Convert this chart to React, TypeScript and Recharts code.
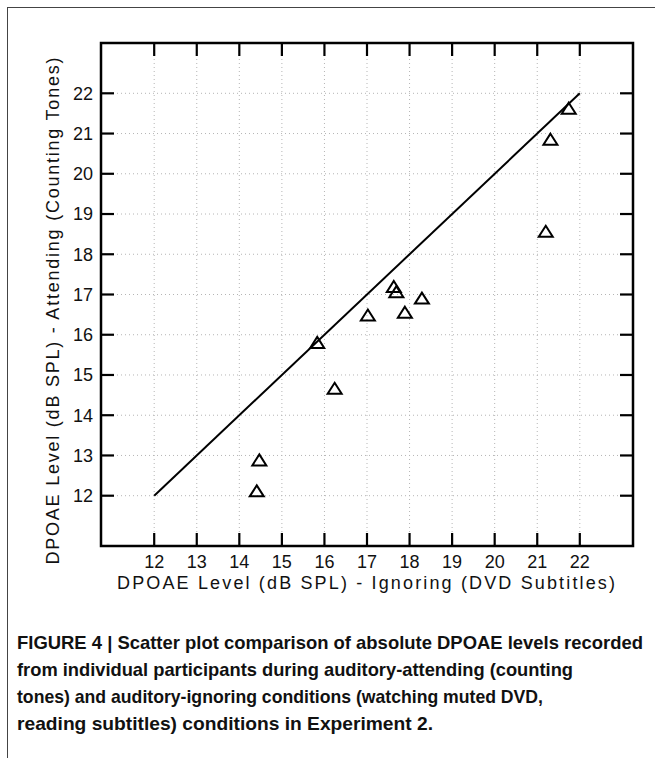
import React from 'react';
import { ScatterChart, Scatter, XAxis, YAxis, CartesianGrid, ReferenceArea, ReferenceLine } from 'recharts';

// DPOAE level per participant (dB SPL)
const ignoring = [14.41, 14.47, 15.83, 16.24, 17.02, 17.63, 17.69, 17.89, 18.29, 21.2, 21.31, 21.74];
const attending = [12.12, 12.89, 15.81, 14.67, 16.49, 17.2, 17.07, 16.56, 16.91, 18.57, 20.86, 21.63];
const ticks = [12, 13, 14, 15, 16, 17, 18, 19, 20, 21, 22];
const unityLine = [12, 22];
const axisDomain = [10.75, 23.25];

const xTitle = 'DPOAE Level (dB SPL) - Ignoring (DVD Subtitles)';
const yTitle = 'DPOAE Level (dB SPL) - Attending (Counting Tones)';
const captionLines = [
  'FIGURE 4 | Scatter plot comparison of absolute DPOAE levels recorded',
  'from individual participants during auditory-attending (counting',
  'tones) and auditory-ignoring conditions (watching muted DVD,',
  'reading subtitles) conditions in Experiment 2.',
];
// rendered width of each caption line
const captionWidths = [626, 556, 526, 416];

const points = ignoring.map((x, i) => ({ x, y: attending[i] }));
const unity = unityLine.map((v) => ({ x: v, y: v }));

const axisFont = '"Liberation Sans", Arial, sans-serif';
const tickStyle = { fontSize: 18, fontFamily: axisFont, fill: '#111' };
const TICK_LEN = 13;

// short inward tick marks at both ends of a full-height / full-width reference line
const VTicks = (props: any) => {
  const { x1, y1, x2, y2 } = props;
  const top = Math.min(y1, y2);
  const bottom = Math.max(y1, y2);
  return (
    <g>
      <line x1={x1} x2={x2} y1={bottom} y2={bottom - TICK_LEN} stroke="#000" strokeWidth={2.2} />
      <line x1={x1} x2={x2} y1={top} y2={top + TICK_LEN} stroke="#000" strokeWidth={2.2} />
    </g>
  );
};

const HTicks = (props: any) => {
  const { x1, y1, x2, y2 } = props;
  const left = Math.min(x1, x2);
  const right = Math.max(x1, x2);
  return (
    <g>
      <line x1={left} x2={left + TICK_LEN} y1={y1} y2={y2} stroke="#000" strokeWidth={2.2} />
      <line x1={right} x2={right - TICK_LEN} y1={y1} y2={y2} stroke="#000" strokeWidth={2.2} />
    </g>
  );
};

const Triangle = (props: any) => {
  const { cx, cy } = props;
  return (
    <polygon
      points={`${cx},${cy - 5.5} ${cx + 7},${cy + 5.5} ${cx - 7},${cy + 5.5}`}
      fill="none"
      stroke="#000"
      strokeWidth={2}
    />
  );
};

const NoDot = () => <g />;

const XTitle = () => (
  <text x={366} y={589} textAnchor="middle" fontSize={18} fontFamily={axisFont} fill="#111" textLength={498} lengthAdjust="spacing">
    {xTitle}
  </text>
);

const YTitle = () => (
  <text
    x={52}
    y={311}
    dy={6.5}
    textAnchor="middle"
    transform="rotate(-90 52 311)"
    fontSize={18}
    fontFamily={axisFont}
    fill="#111"
    textLength={507}
    lengthAdjust="spacing"
  >
    {yTitle}
  </text>
);

export default function App() {
  return (
    <div style={{ position: 'absolute', left: 0, top: 0, width: 655, height: 758, background: '#fff', overflow: 'hidden' }}>
      <div
        style={{
          position: 'absolute',
          left: 7,
          top: 7,
          width: 700,
          height: 800,
          borderLeft: '1px solid #444',
          borderTop: '1px solid #444',
        }}
      />
      <div style={{ position: 'absolute', left: 0, top: 0 }}>
        <ScatterChart width={655} height={600} margin={{ top: 43, right: 22, bottom: 24, left: 41 }}>
          <CartesianGrid stroke="#b5b5b5" strokeDasharray="1 3" />
          <XAxis
            dataKey="x"
            type="number"
            domain={axisDomain}
            ticks={ticks}
            interval={0}
            allowDataOverflow
            height={30}
            tickSize={0}
            tickMargin={9}
            tickLine={false}
            tick={tickStyle}
            axisLine={false}
            label={<XTitle />}
          />
          <YAxis
            dataKey="y"
            type="number"
            domain={axisDomain}
            ticks={ticks}
            interval={0}
            allowDataOverflow
            width={60}
            tickSize={0}
            tickMargin={8}
            tickLine={false}
            tick={tickStyle}
            axisLine={false}
            label={<YTitle />}
          />
          {ticks.map((t) => (
            <ReferenceLine key={`v${t}`} x={t} stroke="#000" shape={<VTicks />} />
          ))}
          {ticks.map((t) => (
            <ReferenceLine key={`h${t}`} y={t} stroke="#000" shape={<HTicks />} />
          ))}
          <ReferenceArea
            x1={axisDomain[0]}
            x2={axisDomain[1]}
            y1={axisDomain[0]}
            y2={axisDomain[1]}
            fill="none"
            fillOpacity={0}
            stroke="#000"
            strokeWidth={2.5}
            ifOverflow="visible"
          />
          <Scatter data={unity} line={{ stroke: '#000', strokeWidth: 2 }} shape={<NoDot />} isAnimationActive={false} />
          <Scatter data={points} shape={<Triangle />} isAnimationActive={false} />
        </ScatterChart>
      </div>
      <svg width={655} height={140} style={{ position: 'absolute', left: 0, top: 618 }}>
        {captionLines.map((line, i) => (
          <text
            key={line}
            x={17}
            y={31 + i * 27}
            fontFamily={axisFont}
            fontWeight="bold"
            fontSize={18.4}
            fill="#111"
            textLength={captionWidths[i]}
            lengthAdjust="spacingAndGlyphs"
          >
            {line}
          </text>
        ))}
      </svg>
    </div>
  );
}
